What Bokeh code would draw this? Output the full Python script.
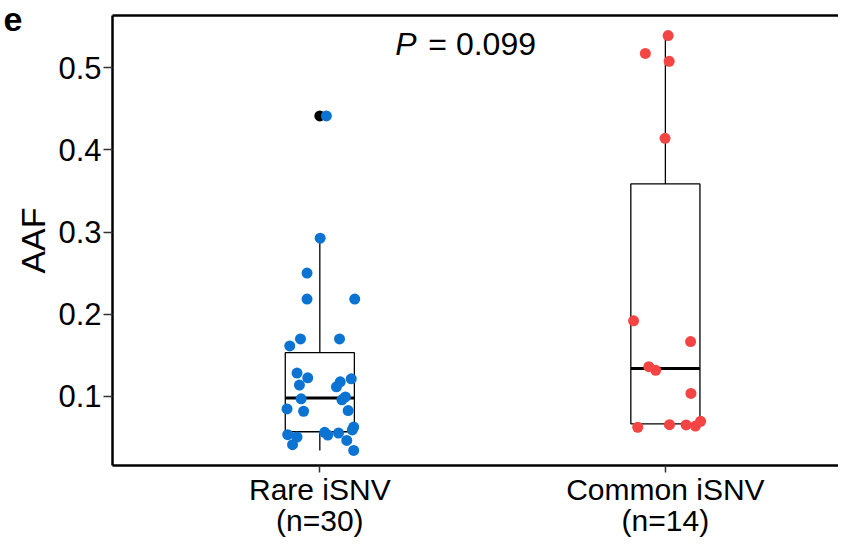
import numpy as np
from bokeh.plotting import figure
from bokeh.models import FixedTicker, LinearAxis, Label, Range1d, ColumnDataSource
from bokeh.embed import file_html
from bokeh.resources import INLINE

# ---- data ----
categories = ["Rare iSNV\n(n=30)", "Common iSNV\n(n=14)"]
cat_pos = [1, 2]
y_ticks = [0.1, 0.2, 0.3, 0.4, 0.5]

rare_aaf = [0.4415, 0.2925, 0.250, 0.2183, 0.2183, 0.1698, 0.1612, 0.1698,
            0.1282, 0.1224, 0.1135, 0.1175, 0.1114, 0.1212, 0.0967, 0.0991,
            0.0955, 0.0845, 0.0816, 0.0825, 0.0531, 0.0502, 0.0409, 0.0559,
            0.0526, 0.0551, 0.0461, 0.0624, 0.0588, 0.0339]
rare_jitter = [0.019, 0.001, -0.037, -0.037, 0.101, -0.056, -0.087, 0.057,
               -0.066, -0.035, -0.059, 0.059, 0.048, 0.091, -0.054, 0.074,
               0.064, -0.095, -0.047, 0.082, -0.093, -0.066, -0.079, 0.014,
               0.023, 0.054, 0.078, 0.098, 0.094, 0.098]

common_aaf = [0.5394, 0.5177, 0.508, 0.4142, 0.1918, 0.1665, 0.1359, 0.1315,
              0.1033, 0.0621, 0.0653, 0.0649, 0.0636, 0.0694]
common_jitter = [0.008, -0.058, 0.011, -0.001, -0.092, 0.073, -0.048, -0.028,
                 0.074, -0.080, 0.012, 0.060, 0.087, 0.102]

group_colors = ["#0B73D2", "#F44444"]
p_value_text = "= 0.099"
panel_tag = "e"

FONT = "Liberation Sans"

p = figure(width=838, height=539,
           x_range=Range1d(0.4, 2.501), y_range=Range1d(0.0155, 0.5639),
           output_backend="svg", toolbar_location=None,
           min_border_left=112, min_border_right=0,
           min_border_top=15, min_border_bottom=70)
p.extra_y_ranges = {"tag": Range1d(0, 1)}
p.xgrid.visible = False
p.ygrid.visible = False
p.outline_line_color = None
p.background_fill_color = "white"
p.border_fill_color = "white"

# ---- axes ----
for ax in (p.xaxis[0], p.yaxis[0]):
    ax.axis_line_width = 2.5
    ax.axis_line_color = "black"
    ax.major_tick_line_color = "#333333"
    ax.major_tick_line_width = 1.5
    ax.major_tick_in = 0
    ax.minor_tick_line_color = None
    ax.major_label_text_font = FONT
    ax.major_label_text_color = "black"

p.yaxis.ticker = FixedTicker(ticks=y_ticks)
p.yaxis.major_tick_out = 9
p.yaxis.major_label_standoff = 2
p.yaxis.major_label_text_font_size = "31px"
p.yaxis.axis_label = "AAF"
p.yaxis.axis_label_text_font = FONT
p.yaxis.axis_label_text_font_size = "34px"
p.yaxis.axis_label_text_font_style = "normal"
p.yaxis.axis_label_text_color = "black"
p.yaxis.axis_label_standoff = 3

p.xaxis.ticker = FixedTicker(ticks=cat_pos)
p.xaxis.major_label_overrides = {c: lab for c, lab in zip(cat_pos, categories)}
p.xaxis.major_tick_out = 7
p.xaxis.major_label_standoff = 0
p.xaxis.major_label_text_font_size = "30px"
p.xaxis.major_label_text_line_height = 0.95

top_axis = LinearAxis(ticker=FixedTicker(ticks=[]), axis_line_width=2.5,
                      axis_line_color="black", major_tick_line_color=None,
                      minor_tick_line_color=None, major_label_text_color=None)
p.add_layout(top_axis, "above")

# panel tag "e" as the single label of an outer, line-less left axis
tag_axis = LinearAxis(y_range_name="tag", ticker=FixedTicker(ticks=[0.992]),
                      major_label_overrides={0.992: panel_tag},
                      axis_line_color=None, major_tick_line_color=None,
                      minor_tick_line_color=None, major_tick_out=0,
                      major_label_standoff=-11, major_label_text_font=FONT,
                      major_label_text_font_size="34px",
                      major_label_text_font_style="bold",
                      major_label_text_color="black")
p.add_layout(tag_axis, "left")

# ---- boxplots ----
groups = [rare_aaf, common_aaf]
jitters = [rare_jitter, common_jitter]
half_w = 0.1
for pos, vals in zip(cat_pos, groups):
    v = np.array(vals)
    q1, med, q3 = np.percentile(v, [25, 50, 75])
    iqr = q3 - q1
    inside = v[(v >= q1 - 1.5 * iqr) & (v <= q3 + 1.5 * iqr)]
    lo, hi = inside.min(), inside.max()
    outl = v[(v < q1 - 1.5 * iqr) | (v > q3 + 1.5 * iqr)]
    p.segment(x0=[pos, pos], y0=[q3, q1], x1=[pos, pos], y1=[hi, lo],
              line_color="black", line_width=1.3)
    p.quad(left=[pos - half_w], right=[pos + half_w], bottom=[q1], top=[q3],
           fill_color="white", line_color="black", line_width=1.3)
    p.segment(x0=[pos - half_w], y0=[med], x1=[pos + half_w], y1=[med],
              line_color="black", line_width=3)
    if len(outl):
        p.scatter(x=[pos] * len(outl), y=list(outl), size=11,
                  fill_color="black", line_color=None)

# ---- jittered points ----
for pos, vals, jit, col in zip(cat_pos, groups, jitters, group_colors):
    src = ColumnDataSource(dict(x=[pos + j for j in jit], y=vals))
    p.scatter(x="x", y="y", source=src, size=11, fill_color=col,
              line_color=None)

# ---- annotations ----
p.add_layout(Label(x=1.2185, y=0.529, text="P", text_font=FONT,
                   text_font_size="32px", text_font_style="italic",
                   text_baseline="middle", text_color="black"))
p.add_layout(Label(x=1.314, y=0.529, text=p_value_text, text_font=FONT,
                   text_font_size="32px", text_baseline="middle",
                   text_color="black"))

open("out.html", "w").write(file_html(p, INLINE))
